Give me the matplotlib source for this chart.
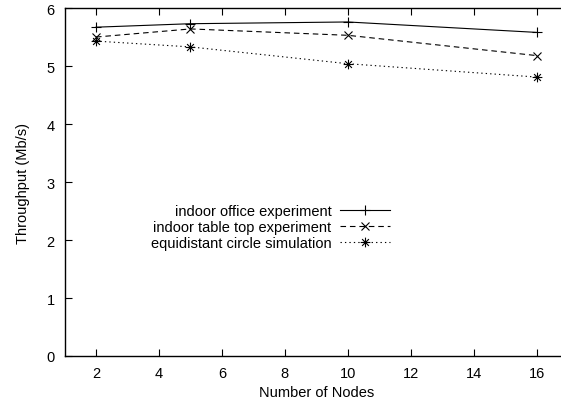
import numpy as np
import matplotlib.pyplot as plt
from matplotlib.path import Path

plt.rcParams['font.family'] = ['Liberation Sans', 'DejaVu Sans']

nodes = [2, 5, 10, 16]
office = [5.67, 5.73, 5.76, 5.58]
tabletop = [5.50, 5.64, 5.53, 5.18]
circle = [5.43, 5.33, 5.04, 4.81]

labels = ['indoor office experiment',
          'indoor table top experiment',
          'equidistant circle simulation']

# gnuplot style star: + and x combined
star = Path([(-1, 0), (1, 0), (0, -1), (0, 1),
             (-0.7, -0.7), (0.7, 0.7), (-0.7, 0.7), (0.7, -0.7)],
            [Path.MOVETO, Path.LINETO] * 4)

fig = plt.figure(figsize=(5.61, 4.06), dpi=100)
ax = fig.add_axes([0.115, 0.1207, 0.898, 0.857])

ax.plot(nodes, office, color='black', lw=0.8, ls='-', marker='+',
        ms=7, mew=0.8, label=labels[0])
ax.plot(nodes, tabletop, color='black', lw=0.8, ls=(0, (5, 3.5)), marker='x',
        ms=6, mew=0.8, label=labels[1])
ax.plot(nodes, circle, color='black', lw=0.8, ls=(0, (1.2, 2.8)), marker=star,
        ms=7, mew=0.8, mfc='none', label=labels[2])

ax.set_xlim(1, 17)
ax.set_ylim(0, 6)
ax.set_xticks(range(2, 17, 2))
ax.set_yticks(range(0, 7))
ax.tick_params(direction='in', length=5, width=0.8, labelsize=10.5,
               top=True, right=True, pad=7)
for s in ax.spines.values():
    s.set_linewidth(1.0)

ax.set_xlabel('Number of Nodes', fontsize=10.5, labelpad=4)
ax.set_ylabel('Throughput (Mb/s)', fontsize=10.5, labelpad=12)

ax.legend(loc='center right', bbox_to_anchor=(0.646, 0.371), frameon=False,
          markerfirst=False, fontsize=10.5, handlelength=3.4,
          handletextpad=0.6, labelspacing=0.15, borderpad=0, borderaxespad=0)
for t in ax.get_legend().get_texts():
    t.set_ha('right')

fig.savefig('out.png', dpi=100)
